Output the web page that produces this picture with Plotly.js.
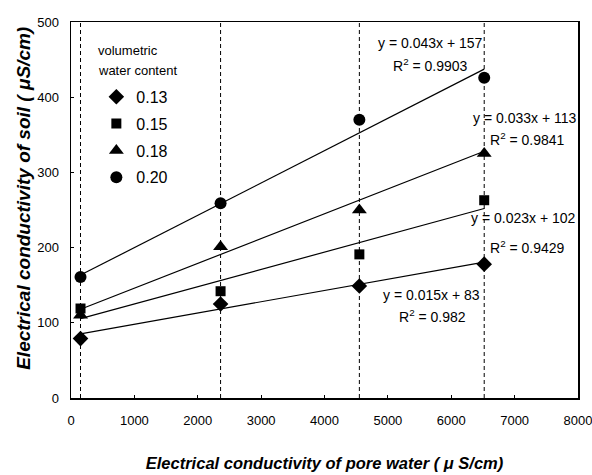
<!DOCTYPE html>
<html><head><meta charset="utf-8">
<script src="https://cdn.plot.ly/plotly-3.0.1.min.js"></script>
<style>body{margin:0;background:#fff}#c{width:592px;height:475px}</style>
</head><body><div id="c"></div>
<script>
const poreEC = [150, 2360, 4550, 6520];
const contents = ['0.13', '0.15', '0.18', '0.20'];
const soilEC_013 = [79, 125, 149, 178];
const soilEC_015 = [119, 142, 191, 263];
const soilEC_018 = [110, 201, 250, 325];
const soilEC_020 = [161, 259, 370, 426];
const slopes = [0.015, 0.023, 0.033, 0.043];
const intercepts = [83, 102, 113, 157];
const r2 = ['0.982', '0.9429', '0.9841', '0.9903'];
const symbols = ['diamond', 'square', 'triangle-up', 'circle'];
const sizes = [12, 10, 13, 12];

const series = [soilEC_013, soilEC_015, soilEC_018, soilEC_020];
const font = 'Liberation Sans, Arial, sans-serif';
const traces = [];
series.forEach((ys, i) => {
  const x0 = poreEC[0], x1 = poreEC[poreEC.length - 1];
  traces.push({
    x: [x0, x1], y: [slopes[i] * x0 + intercepts[i], slopes[i] * x1 + intercepts[i]],
    mode: 'lines', line: {color: '#000', width: 1.2}, showlegend: false, hoverinfo: 'skip'
  });
});
series.forEach((ys, i) => {
  traces.push({
    x: poreEC, y: ys, mode: 'markers', name: contents[i], legendgroup: 'g' + i,
    marker: {symbol: symbols[i], size: sizes[i], color: '#000'}
  });
});

const eqPos = [
  {x: 5690, y: 137, xanchor: 'center'},
  {x: 8000, y: 240, xanchor: 'right'},
  {x: 8000, y: 372, xanchor: 'right'},
  {x: 5680, y: 472, xanchor: 'center'}
];
const r2Pos = [
  {x: 5700, y: 109, xanchor: 'center'},
  {x: 7200, y: 201, xanchor: 'center'},
  {x: 7200, y: 345, xanchor: 'center'},
  {x: 5680, y: 443, xanchor: 'center'}
];
const annotations = [];
for (let i = 0; i < 4; i++) {
  annotations.push({x: eqPos[i].x, y: eqPos[i].y, xanchor: eqPos[i].xanchor, yanchor: 'middle',
    text: 'y = ' + slopes[i] + 'x + ' + intercepts[i], showarrow: false,
    font: {family: font, size: 14, color: '#000'}});
  annotations.push({x: r2Pos[i].x, y: r2Pos[i].y, xanchor: r2Pos[i].xanchor, yanchor: 'middle',
    text: 'R<sup>2</sup> = ' + r2[i], showarrow: false,
    font: {family: font, size: 14, color: '#000'}});
}
annotations.push({xref: 'paper', yref: 'paper', x: 0.05, y: 0.925, xanchor: 'left', yanchor: 'middle',
  text: 'volumetric', showarrow: false, font: {family: font, size: 13, color: '#000'}});
annotations.push({xref: 'paper', yref: 'paper', x: 0.05, y: 0.87, xanchor: 'left', yanchor: 'middle',
  text: 'water content', showarrow: false, font: {family: font, size: 13, color: '#000'}});
annotations.push({xref: 'paper', yref: 'paper', x: -0.093, y: 0.532, xanchor: 'center', yanchor: 'middle',
  textangle: -90, text: 'Electrical conductivity of soil ( μS/cm)', showarrow: false,
  font: {family: font, size: 19, color: '#000', weight: 'bold', style: 'italic'}});

const shapes = poreEC.map(x => ({type: 'line', xref: 'x', yref: 'paper', x0: x, x1: x, y0: 0, y1: 1,
  line: {color: '#000', width: 1, dash: '4px,3px'}, layer: 'below'}));

const layout = {
  width: 592, height: 475,
  margin: {l: 71, r: 14, t: 22, b: 77},
  paper_bgcolor: '#fff', plot_bgcolor: '#fff',
  font: {family: font, color: '#000', size: 13},
  showlegend: true,
  legend: {x: 0.05, y: 0.846, xanchor: 'left', yanchor: 'top', bgcolor: 'rgba(0,0,0,0)',
    font: {size: 16, family: font}, tracegroupgap: 3, itemwidth: 30},
  xaxis: {range: [0, 8000], tickvals: [0,1000,2000,3000,4000,5000,6000,7000,8000],
    ticks: 'inside', ticklen: 3, tickcolor: '#000', showgrid: false, zeroline: false,
    showline: true, linecolor: '#000', linewidth: 1.5, mirror: true, ticklabelstandoff: 10,
    ticklabeloverflow: 'allow',
    tickfont: {size: 13, family: font},
    title: {text: 'Electrical conductivity of pore water ( μ S/cm)', standoff: 30,
      font: {size: 16.5, family: font, weight: 'bold', style: 'italic'}}},
  yaxis: {range: [0, 500], tickvals: [0,100,200,300,400,500],
    ticks: 'inside', ticklen: 3, tickcolor: '#000', showgrid: false, zeroline: false,
    showline: true, linecolor: '#000', linewidth: 1.5, mirror: true, ticklabelstandoff: 8,
    tickfont: {size: 13, family: font}},
  shapes: shapes,
  annotations: annotations
};
Plotly.newPlot('c', traces, layout, {displayModeBar: false, staticPlot: true});
</script></body></html>
